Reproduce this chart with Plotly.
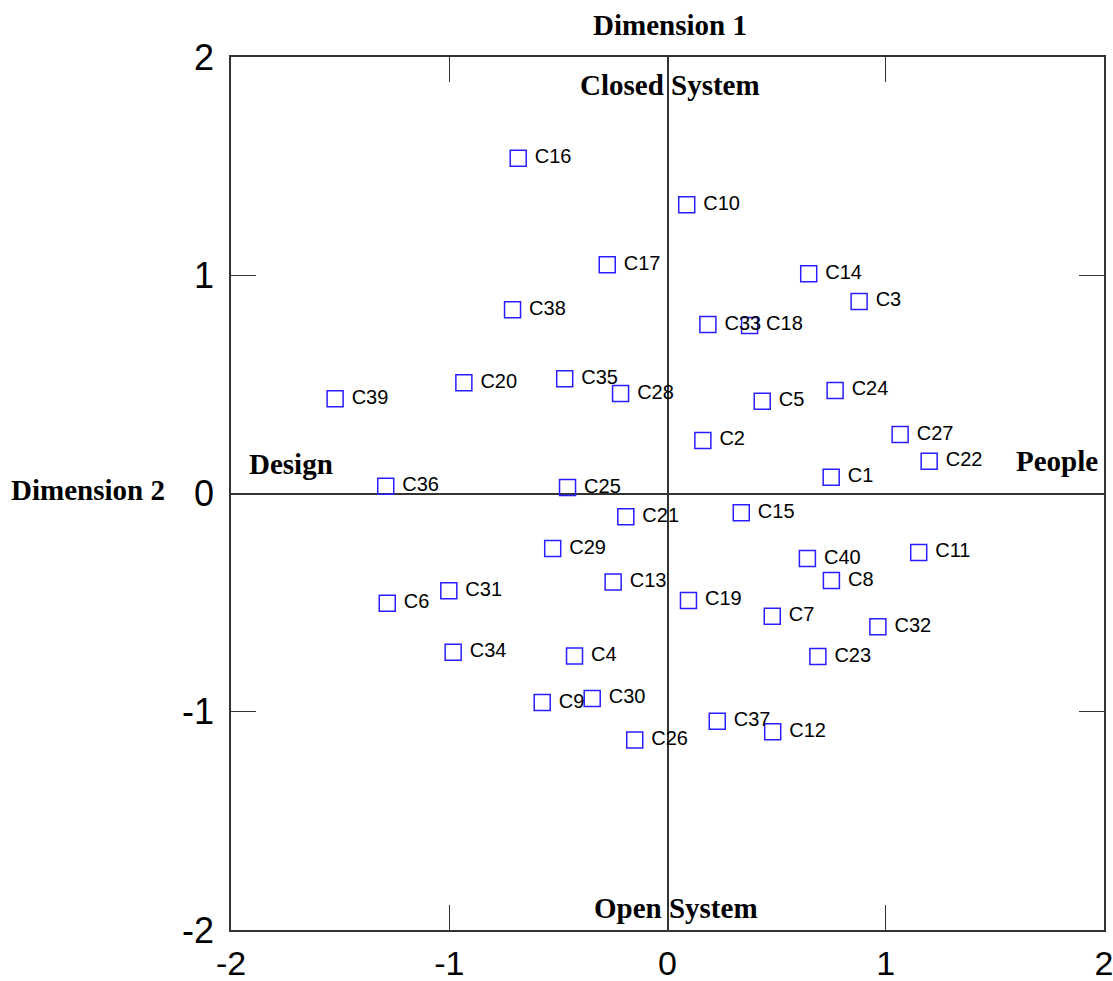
import plotly.graph_objects as go

labels = ["C1","C2","C3","C4","C5","C6","C7","C8","C9","C10",
          "C11","C12","C13","C14","C15","C16","C17","C18","C19","C20",
          "C21","C22","C23","C24","C25","C26","C27","C28","C29","C30",
          "C31","C32","C33","C34","C35","C36","C37","C38","C39","C40"]
dim1 = [0.750, 0.162, 0.878, -0.426, 0.434, -1.284, 0.480, 0.751, -0.574, 0.088,
        1.151, 0.482, -0.249, 0.647, 0.338, -0.684, -0.276, 0.376, 0.096, -0.933,
        -0.191, 1.199, 0.689, 0.768, -0.458, -0.150, 1.066, -0.215, -0.526, -0.345,
        -1.002, 0.964, 0.185, -0.982, -0.471, -1.291, 0.228, -0.710, -1.523, 0.641]
dim2 = [0.075, 0.243, 0.880, -0.745, 0.423, -0.503, -0.562, -0.399, -0.958, 1.323,
        -0.270, -1.092, -0.405, 1.007, -0.088, 1.536, 1.048, 0.770, -0.490, 0.507,
        -0.107, 0.148, -0.747, 0.472, 0.027, -1.129, 0.270, 0.458, -0.252, -0.939,
        -0.446, -0.611, 0.774, -0.727, 0.526, 0.033, -1.043, 0.842, 0.434, -0.298]
tick_vals = [-2, -1, 0, 1, 2]

serif = "Times New Roman, Liberation Serif, serif"
sans = "Arial, Liberation Sans, sans-serif"

fig = go.Figure()
fig.add_trace(go.Scatter(
    x=dim1, y=dim2, mode="markers+text",
    text=["\u00a0" + t for t in labels],
    textposition="middle right",
    textfont=dict(family=sans, size=20, color="black"),
    marker=dict(symbol="square-open", size=16, color="rgb(40,30,255)",
                line=dict(width=1.5, color="rgb(40,30,255)")),
    showlegend=False, cliponaxis=False,
))

axis_common = dict(
    range=[-2, 2], tickvals=tick_vals, ticktext=[str(v) for v in tick_vals],
    showgrid=False, showline=True, linecolor="#333333", linewidth=1.5,
    mirror="ticks", ticks="inside", ticklen=25, tickwidth=1.2, tickcolor="#333333",
    zeroline=True, zerolinecolor="#333333", zerolinewidth=1.5,
    automargin=False, ticklabeloverflow="allow",
)
fig.update_xaxes(**axis_common, ticklabelstandoff=2,
                 tickfont=dict(family=sans, size=34, color="black"))
fig.update_yaxes(**axis_common, ticklabelstandoff=8,
                 tickfont=dict(family=sans, size=36, color="black"))

ann = [
    dict(text="<b>Dimension 1</b>", x=0.503, y=1.0367, xref="paper", yref="paper"),
    dict(text="<b>Dimension 2</b>", x=-0.164, y=0.504, xref="paper", yref="paper"),
    dict(text="<b>Closed System</b>", x=0.01, y=1.87, xref="x", yref="y"),
    dict(text="<b>Open System</b>", x=0.037, y=-1.90, xref="x", yref="y"),
    dict(text="<b>Design</b>", x=-1.725, y=0.133, xref="x", yref="y"),
    dict(text="<b>People</b>", x=1.785, y=0.151, xref="x", yref="y"),
]
for a in ann:
    fig.add_annotation(**a, showarrow=False, xanchor="center", yanchor="middle",
                       font=dict(family=serif, size=29, color="black"))

fig.update_layout(
    width=1113, height=981,
    margin=dict(l=231, r=9, t=57, b=51),
    paper_bgcolor="white", plot_bgcolor="white",
)
fig.write_html("out.html", config={"displayModeBar": False},
               post_script="document.body.style.margin='0';document.body.style.overflow='hidden';")
